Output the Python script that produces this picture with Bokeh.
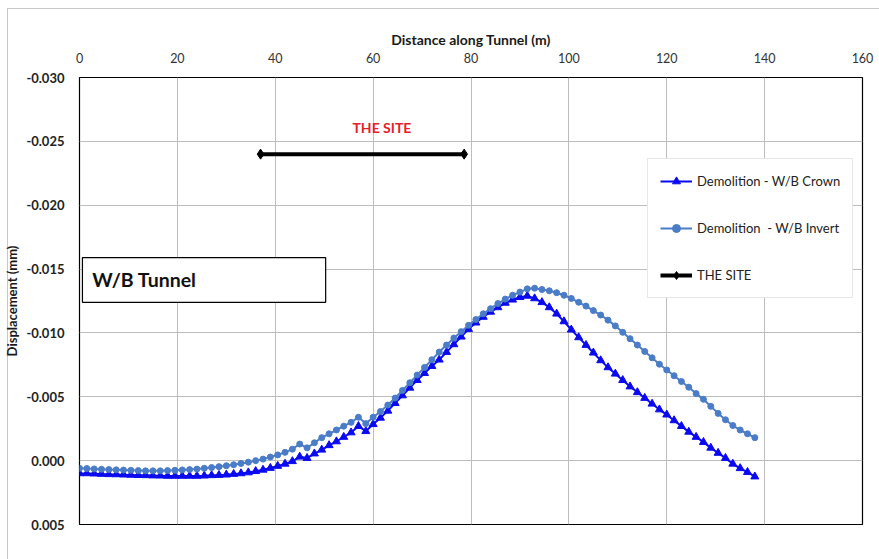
from bokeh.plotting import figure
from bokeh.models import (Range1d, FixedTicker, NumeralTickFormatter, Legend, LegendItem,
                          BoxAnnotation, Label)
from bokeh.embed import file_html
from bokeh.resources import INLINE

# ---- data (displacement in mm, negative = upward) ----
distance = [0, 1.5, 3, 4.5, 6, 7.5, 9, 10.5, 12, 13.5, 15, 16.5, 18, 19.5, 21, 22.5, 24, 25.5,
            27, 28.5, 30, 31.5, 33, 34.5, 36, 37.5, 39, 40.5, 42, 43.5, 45, 46.5, 48, 49.5, 51,
            52.5, 54, 55.5, 57, 58.5, 60, 61.5, 63, 64.5, 66, 67.5, 69, 70.5, 72, 73.5, 75, 76.5,
            78, 79.5, 81, 82.5, 84, 85.5, 87, 88.5, 90, 91.5, 93, 94.5, 96, 97.5, 99, 100.5, 102,
            103.5, 105, 106.5, 108, 109.5, 111, 112.5, 114, 115.5, 117, 118.5, 120, 121.5, 123,
            124.5, 126, 127.5, 129, 130.5, 132, 133.5, 135, 136.5, 138]

crown = [0.00100, 0.00100, 0.00102, 0.00105, 0.00107, 0.00108, 0.00110, 0.00112, 0.00114,
         0.00115, 0.00117, 0.00118, 0.00120, 0.00120, 0.00120, 0.00120, 0.00120, 0.00118,
         0.00115, 0.00113, 0.00110, 0.00105, 0.00100, 0.00093, 0.00083, 0.00072, 0.00058,
         0.00042, 0.00025, 0.00005, -0.00030, -0.00020, -0.00055, -0.00085, -0.00120,
         -0.00150, -0.00185, -0.00220, -0.00270, -0.00230, -0.00285, -0.00335, -0.00390,
         -0.00450, -0.00510, -0.00570, -0.00630, -0.00685, -0.00740, -0.00790, -0.00850,
         -0.00910, -0.00970, -0.01030, -0.01080, -0.01125, -0.01165, -0.01200, -0.01235,
         -0.01260, -0.01280, -0.01290, -0.01270, -0.01240, -0.01200, -0.01150, -0.01090,
         -0.01025, -0.00965, -0.00905, -0.00845, -0.00785, -0.00730, -0.00680, -0.00630,
         -0.00580, -0.00535, -0.00490, -0.00445, -0.00400, -0.00360, -0.00315, -0.00270,
         -0.00225, -0.00185, -0.00145, -0.00100, -0.00060, -0.00020, 0.00025, 0.00060,
         0.00090, 0.00125]

invert = [0.00060, 0.00062, 0.00065, 0.00068, 0.00070, 0.00072, 0.00074, 0.00076, 0.00078,
          0.00080, 0.00080, 0.00080, 0.00078, 0.00076, 0.00073, 0.00070, 0.00066, 0.00060,
          0.00054, 0.00047, 0.00040, 0.00032, 0.00022, 0.00012, 0.00000, -0.00012, -0.00028,
          -0.00045, -0.00065, -0.00090, -0.00130, -0.00100, -0.00140, -0.00180, -0.00210,
          -0.00240, -0.00270, -0.00300, -0.00340, -0.00290, -0.00340, -0.00385, -0.00435,
          -0.00490, -0.00550, -0.00610, -0.00670, -0.00730, -0.00790, -0.00850, -0.00905,
          -0.00960, -0.01010, -0.01060, -0.01105, -0.01150, -0.01190, -0.01230, -0.01265,
          -0.01295, -0.01320, -0.01345, -0.01350, -0.01340, -0.01330, -0.01315, -0.01295,
          -0.01270, -0.01240, -0.01210, -0.01175, -0.01140, -0.01100, -0.01055, -0.01005,
          -0.00955, -0.00905, -0.00855, -0.00805, -0.00755, -0.00710, -0.00665, -0.00620,
          -0.00575, -0.00525, -0.00480, -0.00425, -0.00370, -0.00320, -0.00275, -0.00240,
          -0.00210, -0.00180]

site_x = [37.0, 78.6]
site_y = [-0.0240, -0.0240]

x_ticks = [0, 20, 40, 60, 80, 100, 120, 140, 160]
y_ticks = [0.005, 0.000, -0.005, -0.010, -0.015, -0.020, -0.025, -0.030]

FONT = "Lato"
CROWN_C = "#0a0af0"
INVERT_C = "#4a7cc8"

p = figure(width=879, height=559, output_backend="svg", toolbar_location=None,
           x_axis_location="above",
           x_range=Range1d(0, 160), y_range=Range1d(0.005, -0.030),
           min_border_left=79, min_border_right=17, min_border_top=77, min_border_bottom=35,
           background_fill_color="white", border_fill_color="white", border_fill_alpha=0.0)

# thin grey chart-area border (top and left edges, as in the reference screenshot)
p.styles = {
    "background-color": "white",
    "background-image": "linear-gradient(#c8c8c8, #c8c8c8), linear-gradient(#c8c8c8, #c8c8c8)",
    "background-position": "7px 8px, 7px 8px",
    "background-size": "872px 1px, 1px 551px",
    "background-repeat": "no-repeat",
}

p.outline_line_color = "black"
p.outline_line_width = 1.2

# axes
xa = p.xaxis[0]
xa.ticker = FixedTicker(ticks=x_ticks)
xa.axis_label = "Distance along Tunnel (m)"
xa.axis_label_text_font = FONT
xa.axis_label_text_font_style = "bold"
xa.axis_label_text_font_size = "14px"
xa.axis_label_text_color = "#1a1a1a"
xa.axis_label_standoff = 2
xa.major_label_text_font = FONT
xa.major_label_text_font_size = "12.5px"
xa.major_label_text_color = "#333333"
xa.major_label_standoff = 15
xa.major_tick_out = 0
xa.major_tick_in = 0
xa.minor_tick_out = 0
xa.minor_tick_in = 0
xa.axis_line_color = None

ya = p.yaxis[0]
ya.ticker = FixedTicker(ticks=y_ticks)
ya.formatter = NumeralTickFormatter(format="0.000")
ya.axis_label = "Displacement (mm)"
ya.axis_label_text_font = FONT
ya.axis_label_text_font_style = "bold"
ya.axis_label_text_font_size = "13px"
ya.axis_label_text_color = "#1a1a1a"
ya.axis_label_standoff = 3
ya.major_label_text_font = FONT
ya.major_label_text_font_style = "bold"
ya.major_label_text_font_size = "13px"
ya.major_label_text_color = "#222222"
ya.major_label_standoff = 15
ya.major_tick_out = 0
ya.major_tick_in = 0
ya.minor_tick_out = 0
ya.minor_tick_in = 0
ya.axis_line_color = None

p.xgrid.grid_line_color = "#bdbdbd"
p.ygrid.grid_line_color = "#bdbdbd"
p.xgrid.grid_line_width = 1
p.ygrid.grid_line_width = 1

# series
cl = p.line(distance, crown, line_color=CROWN_C, line_width=2)
cm = p.scatter(distance, crown, marker="triangle", size=8, fill_color=CROWN_C,
               line_color=CROWN_C)
il = p.line(distance, invert, line_color=INVERT_C, line_width=2)
im = p.scatter(distance, invert, marker="circle", size=6, fill_color=INVERT_C,
               line_color=INVERT_C)
sl = p.line(site_x, site_y, line_color="black", line_width=4)
sm = p.scatter(site_x, site_y, marker="diamond", size=10, fill_color="black",
               line_color="black")

# W/B Tunnel box
box = BoxAnnotation(left=0.6, right=50.3, top=-0.0159, bottom=-0.0124,
                    fill_color="white", fill_alpha=1.0, line_color="black", line_width=1.2,
                    line_alpha=1.0)
p.add_layout(box)
p.add_layout(Label(x=2.6, y=-0.01415, text="W/B Tunnel", text_font=FONT,
                   text_font_style="bold", text_font_size="19.5px", text_color="#111111",
                   text_baseline="middle", text_align="left"))

p.add_layout(Label(x=61.8, y=-0.0261, text="THE SITE", text_font=FONT,
                   text_font_style="bold", text_font_size="14px", text_color="#e3202b",
                   text_baseline="middle", text_align="center"))

legend = Legend(items=[
    LegendItem(label="Demolition - W/B Crown", renderers=[cl, cm]),
    LegendItem(label="Demolition  - W/B Invert", renderers=[il, im]),
    LegendItem(label="THE SITE", renderers=[sl, sm]),
], location=(568, 226))
legend.padding = 12
legend.spacing = 27
legend.glyph_height = 20
legend.glyph_width = 32
legend.label_height = 20
legend.label_standoff = 5
legend.label_text_font = FONT
legend.label_text_font_size = "13px"
legend.label_text_color = "#222222"
legend.border_line_color = "#d0d0d0"
legend.border_line_width = 1
legend.background_fill_color = "white"
legend.background_fill_alpha = 1.0
legend.margin = 0
p.add_layout(legend, "center")

open("out.html", "w").write(file_html(p, INLINE))
